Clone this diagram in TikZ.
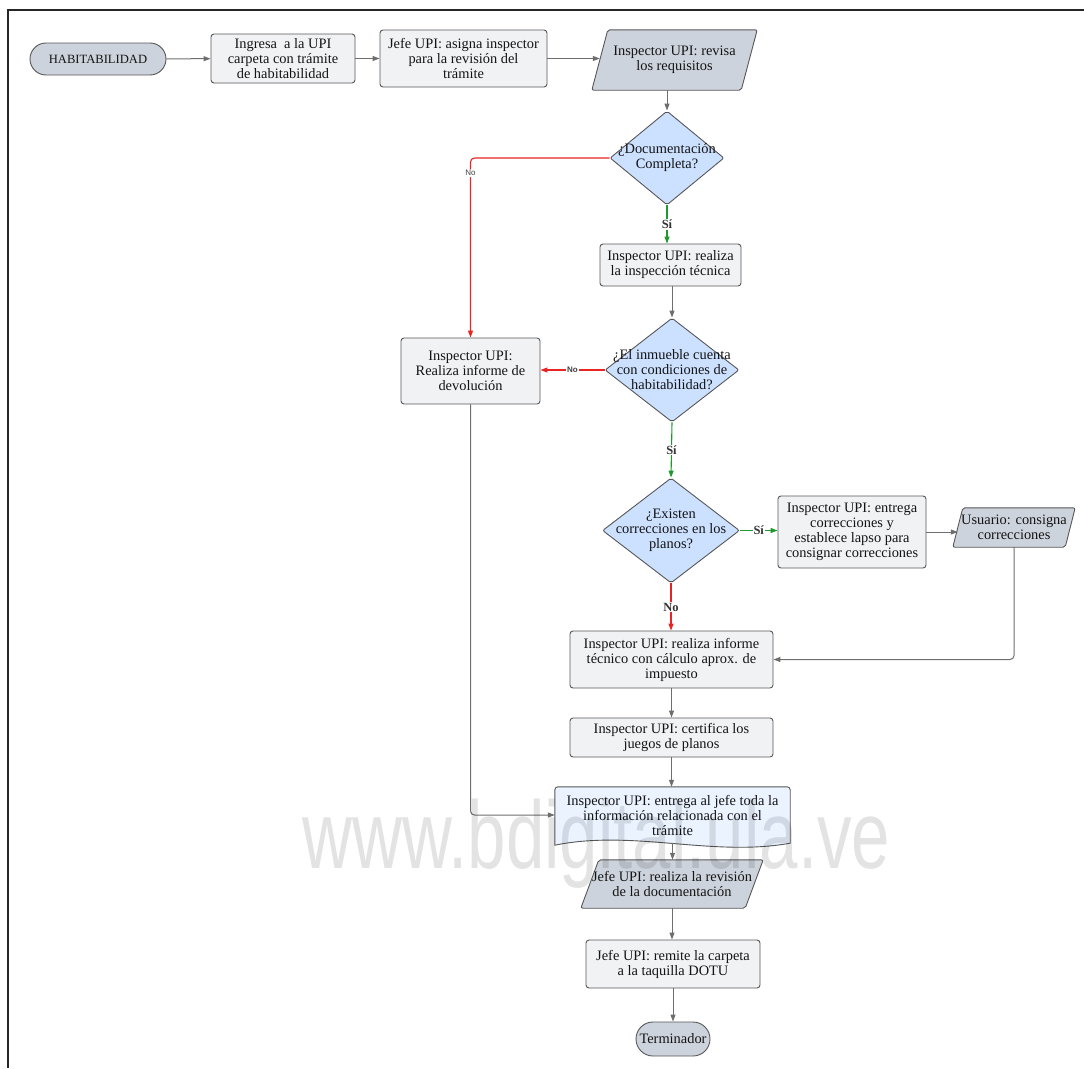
\documentclass[tikz,border=0pt]{standalone}
\usepackage{fontspec}
\setmainfont{Liberation Serif}
\newfontfamily\lsans{Liberation Sans}
\usetikzlibrary{shapes.geometric,arrows.meta}
\pgfdeclarelayer{bg}
\pgfsetlayers{bg,main}
\definecolor{boxfill}{HTML}{F1F2F4}
\definecolor{termfill}{HTML}{CDD3DC}
\definecolor{dfill}{HTML}{CCE0FF}
\definecolor{docfill}{HTML}{EAF3FF}
\definecolor{edgec}{HTML}{575757}
\definecolor{conn}{HTML}{6E6E6E}
\definecolor{rline}{HTML}{E82424}
\definecolor{gline}{HTML}{1E9A2A}
\newcommand\drawpgram[2]{%
  \begin{pgfonlayer}{bg}
  \draw[pgshape] ([xshift=#2pt]#1.north west) -- ([xshift=#2pt]#1.north east)
     -- ([xshift=-#2pt]#1.south east) -- ([xshift=-#2pt]#1.south west) -- cycle;
  \end{pgfonlayer}}
\begin{document}
\begin{tikzpicture}[x=1pt,y=-1pt,
  txt/.style={font=\fontsize{14.4}{15}\selectfont, align=center, text=black!92},
  box/.style={txt, draw=edgec, fill=boxfill, rounded corners=3pt, line width=0.9pt, inner sep=0pt},
  term/.style={txt, draw=edgec, fill=termfill, line width=0.9pt, inner sep=0pt},
  pgnode/.style={txt, inner sep=0pt},
  pgshape/.style={draw=edgec, fill=termfill, line width=0.9pt, rounded corners=2pt},
  diam/.style={diamond, draw=edgec, fill=dfill, line width=0.9pt, inner sep=0pt, rounded corners=2pt},
  dtxt/.style={txt, inner sep=0pt},
  arr/.style={draw=conn, line width=1pt, -{Triangle[length=7pt,width=5pt]}},
  rarr/.style={draw=rline, line width=1.1pt, -{Triangle[length=7pt,width=5pt]}},
  garr/.style={draw=gline, line width=1.1pt, -{Triangle[length=7pt,width=5pt]}},
  smalllab/.style={font=\lsans\fontsize{8}{9}\selectfont, text=black!75, fill=white, inner sep=1pt},
  seriflab/.style={font=\bfseries\fontsize{12.5}{14}\selectfont, text=black!80, fill=white, inner sep=1pt},
  wmark/.style={font=\lsans\fontsize{96}{100}\selectfont, text=black, text opacity=0.11, inner sep=0pt}
]
\useasboundingbox (0,0) rectangle (1084,1068);
% frame
\draw[line width=1.6pt, black!85] (8,1068) -- (8,10) -- (1084,10);

% nodes
\node[term, rounded corners=16pt, minimum width=136, minimum height=32, font=\fontsize{12.6}{15}\selectfont] (hab) at (98,59) {HABITABILIDAD};
\node[box, minimum width=144, minimum height=49] (ing) at (283,58.5) {Ingresa\ \ a la UPI\\carpeta con trámite\\de habitabilidad};
\node[box, minimum width=167, minimum height=57] (jefe) at (463.5,58.5) {Jefe UPI: asigna inspector\\para la revisión del\\trámite};
\node[pgnode, minimum width=149, minimum height=60] (rev) at (674.5,60) {Inspector UPI: revisa\\los requisitos};
\drawpgram{rev}{8}

\node[diam, minimum width=114, minimum height=94] (d1) at (667,158) {};
\node[dtxt] (d1t) at (667,158) {¿Documentación\\Completa?};

\node[box, minimum width=141, minimum height=42] (insp) at (670.5,265) {Inspector UPI: realiza\\la inspección técnica};

\node[diam, minimum width=134, minimum height=104] (d2) at (672,370) {};
\node[dtxt] (d2t) at (672,370) {¿El inmueble cuenta\\con condiciones de\\habitabilidad?};

\node[box, minimum width=139, minimum height=66] (dev) at (470.5,371) {Inspector UPI:\\Realiza informe de\\devolución};

\node[diam, minimum width=137, minimum height=105] (d3) at (671,530.5) {};
\node[dtxt] (d3t) at (671,530.5) {¿Existen\\correcciones en los\\planos?};

\node[box, minimum width=148, minimum height=72] (corr) at (852,532) {Inspector UPI: entrega\\correcciones y\\establece lapso para\\consignar correcciones};
\node[pgnode, minimum width=112, minimum height=39] (usu) at (1014,527.5) {Usuario: consigna\\correcciones};
\drawpgram{usu}{5}

\node[box, minimum width=203, minimum height=57] (inf) at (671.5,659.5) {Inspector UPI: realiza informe\\técnico con cálculo aprox. de\\impuesto};
\node[box, minimum width=203, minimum height=39] (cert) at (671.5,737.5) {Inspector UPI: certifica los\\juegos de planos};

\node[txt, inner sep=0pt, minimum width=235, minimum height=56] (doc) at (672.5,815) {Inspector UPI: entrega al jefe toda la\\información relacionada con el\\trámite};
\begin{pgfonlayer}{bg}
\draw[draw=edgec, fill=docfill, line width=0.9pt]
  ([yshift=-2pt]doc.south west) -- ([yshift=-3pt]doc.north west) [rounded corners=3pt] -- (doc.north west) -- (doc.north east) [sharp corners] -- (doc.south east)
  .. controls ([xshift=-78pt,yshift=-14pt]doc.south east) and ([xshift=78pt,yshift=14pt]doc.south west) .. ([yshift=-2pt]doc.south west) -- cycle;
\end{pgfonlayer}

\node[pgnode, minimum width=164, minimum height=48] (rev2) at (672,884) {Jefe UPI: realiza la revisión\\de la documentación};
\drawpgram{rev2}{9}

\node[box, minimum width=174, minimum height=48] (rem) at (673,964) {Jefe UPI: remite la carpeta\\a la taquilla DOTU};
\node[term, rounded corners=17pt, minimum width=74, minimum height=34] (fin) at (673,1039) {Terminador};

% connectors
\draw[arr] (hab) -- (ing);
\draw[arr] (ing) -- (ing -| jefe.west);
\draw[arr] (jefe) -- (jefe -| rev.west);
\draw[arr] (rev.south -| d1.north) -- (d1.north);
\draw[rline, line width=1.1pt, -{Triangle[length=7pt,width=5pt]}, rounded corners=4pt] (d1.west) -- (dev.north |- d1.west) -- (dev.north)
  node[smalllab, pos=0.085] (no1) {No};
\draw[garr] (d1.south) -- (d1.south |- insp.north) node[seriflab, midway] (si1) {Sí};
\draw[arr] (insp.south -| d2.north) -- (d2.north);
\draw[rarr] (d2.west) -- (d2.west -| dev.east) node[smalllab, midway, font=\lsans\bfseries\fontsize{8}{9}\selectfont] (no2) {No};
\draw[garr] (d2.south) -- (d3.north) node[seriflab, midway] (si2) {Sí};
\draw[garr] (d3.east) -- (d3.east -| corr.west) node[seriflab, midway] (si3) {Sí};
\draw[arr] (corr.east) -- (corr.east -| usu.west);
\draw[arr, rounded corners=4pt] (usu.south) -- (usu.south |- inf.east) -- (inf.east);
\draw[rarr] (d3.south) -- (d3.south |- inf.north) node[seriflab, midway] (no3) {No};
\draw[arr] (inf.south) -- (cert.north);
\draw[arr] (cert.south) -- (cert.south |- doc.north);
\draw[arr, rounded corners=4pt] (dev.south) -- (dev.south |- doc.west) -- (doc.west);
\draw[arr] (doc.south) -- (doc.south |- rev2.north);
\draw[arr] (rev2.south) -- (rev2.south |- rem.north);
\draw[arr] (rem.south) -- (fin.north);

% watermark
\node[wmark, anchor=base] (wm) at (596.5,868) {\scalebox{0.72}[1]{www.bdigital.ula.ve}};
\end{tikzpicture}
\end{document}
